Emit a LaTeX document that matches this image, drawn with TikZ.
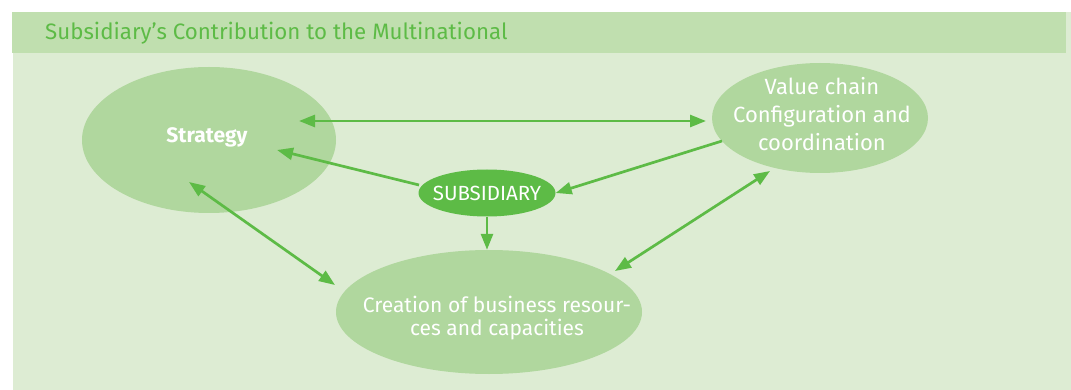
\documentclass[tikz,border=0pt]{standalone}
\usepackage{fontspec}
\setmainfont{Fira Sans}
\usetikzlibrary{shapes.geometric,arrows.meta}
\definecolor{barcol}{HTML}{C0DFAF}
\definecolor{panelcol}{HTML}{DDECD3}
\definecolor{ellcol}{HTML}{B0D79E}
\definecolor{darkg}{HTML}{5DBB46}
\tikzset{
  bubble/.style={ellipse, fill=ellcol, draw=none, inner sep=0pt},
  bubbletext/.style={text=white, align=center, inner sep=0pt},
  subnode/.style={ellipse, fill=darkg, draw=none, inner xsep=-16pt, inner ysep=0pt, text=white, align=center},
  arr/.style={draw=darkg, line width=2.7pt, -{Triangle[length=16pt,width=12pt]}},
  biarr/.style={draw=darkg, line width=2.7pt, {Triangle[length=16pt,width=12pt]}-{Triangle[length=16pt,width=12pt]}},
}
\begin{document}
\begin{tikzpicture}[x=1pt,y=-1pt]
\useasboundingbox (0,0) rectangle (1071,390);
\fill[panelcol] (13,12) rectangle (1071,390);
\fill[barcol] (12,12) rectangle (1066,53);
\node[anchor=west, text=darkg, font=\fontsize{22.3}{24}\selectfont, inner sep=0pt] (title) at (45,33) {Subsidiary{\char"27}s Contribution to the Multinational};

\node[bubble, minimum width=254pt, minimum height=146pt] (strategy) at (209,140) {};
\node[bubbletext, font=\bfseries\fontsize{21}{24}\selectfont] (strategytext) at (207,137) {Strategy};
\node[bubble, minimum width=216pt, minimum height=110pt] (value) at (820,118) {};
\node[bubbletext, font=\fontsize{22}{28}\selectfont] (valuetext) at (822,114) {Value chain\\Configuration and\\coordination};
\node[bubble, minimum width=306pt, minimum height=124pt] (creation) at (489,312) {};
\node[bubbletext, font=\fontsize{21}{23}\selectfont] (creationtext) at (497,318) {Creation of business resour-\\ces and capacities};
\node[subnode, minimum width=137pt, minimum height=47pt, font=\fontsize{20.5}{22}\selectfont] (sub) at (487,193) {SUBSIDIARY};

\draw[biarr] ([xshift=90pt,yshift=19pt]strategy.center) -- ([xshift=-114pt,yshift=-3pt]value.center);
\draw[arr] ([xshift=-68pt,yshift=8pt]sub.center) -- ([xshift=68pt,yshift=-10pt]strategy.center);
\draw[arr] ([xshift=-98pt,yshift=-23pt]value.center) -- (sub.east);
\draw[arr] (sub.south) -- (sub.south |- creation.north);
\draw[biarr] ([xshift=-20pt,yshift=-42pt]strategy.center) -- ([xshift=-154pt,yshift=27pt]creation.center);
\draw[biarr] ([xshift=-50pt,yshift=-53pt]value.center) -- ([xshift=126pt,yshift=41pt]creation.center);
\end{tikzpicture}
\end{document}
